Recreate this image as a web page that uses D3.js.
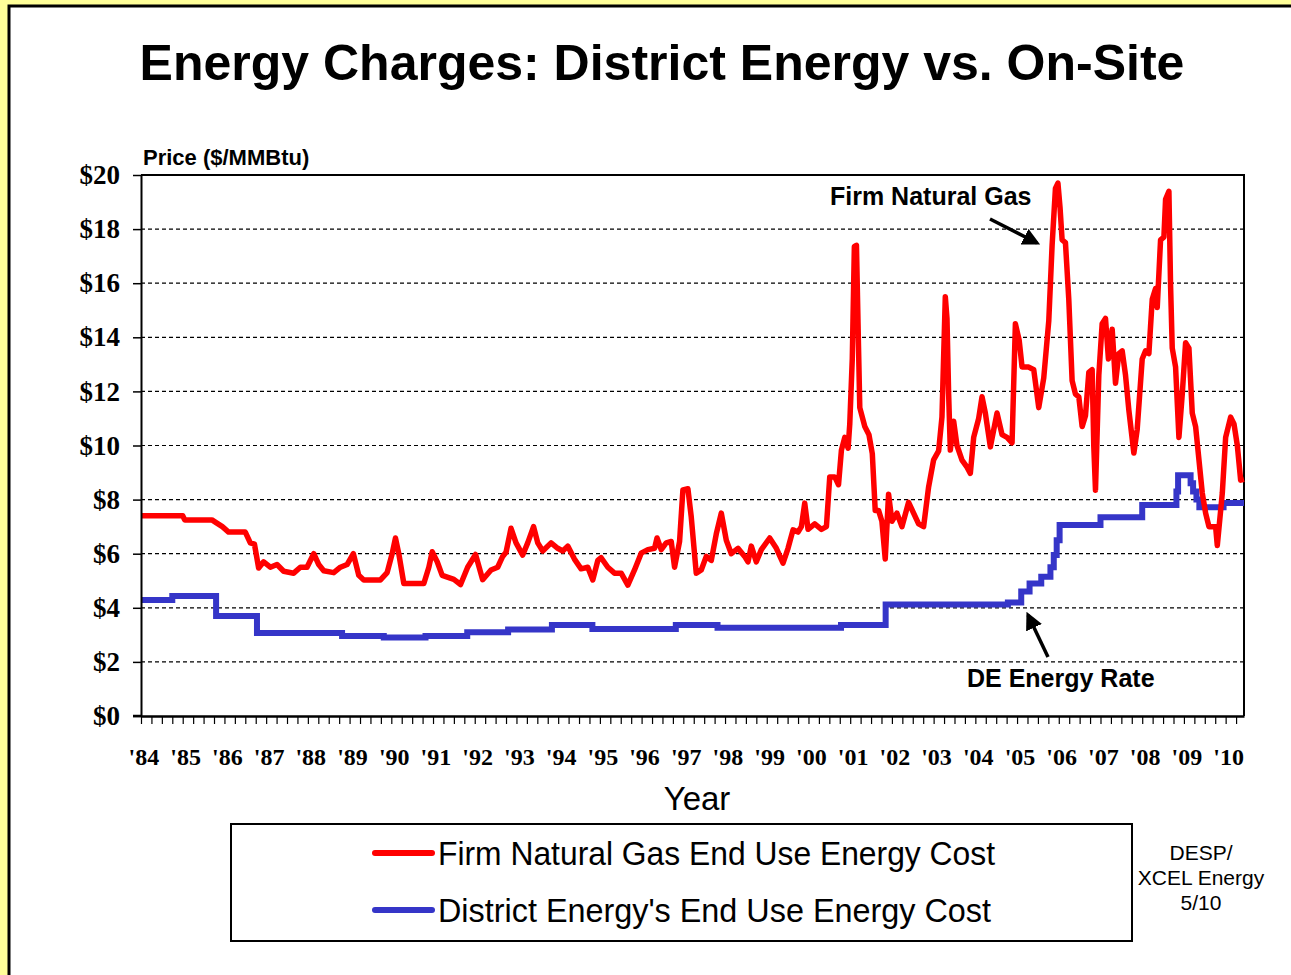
<!DOCTYPE html>
<html>
<head>
<meta charset="utf-8">
<script src="https://cdn.jsdelivr.net/npm/d3@7"></script>
<style>
  body { margin: 0; background: #ffff99; }
  svg { display: block; }
</style>
</head>
<body>
<svg id="chart" width="1291" height="975"></svg>
<script>
// ---- data (decimal year, $/MMBtu) ----
const yearLabels = ["'84", "'85", "'86", "'87", "'88", "'89", "'90", "'91", "'92", "'93", "'94", "'95", "'96",
  "'97", "'98", "'99", "'00", "'01", "'02", "'03", "'04", "'05", "'06", "'07", "'08", "'09", "'10"];
const firstYear = 1984;
const priceTicks = [0, 2, 4, 6, 8, 10, 12, 14, 16, 18, 20];

const firmGas = [
  [1984.0, 7.4], [1985.0, 7.4], [1985.05, 7.25], [1985.7, 7.25], [1985.8, 7.15], [1985.95, 7.0],
  [1986.1, 6.8], [1986.5, 6.8], [1986.62, 6.4], [1986.72, 6.35], [1986.82, 5.47], [1986.94, 5.7],
  [1987.1, 5.5], [1987.26, 5.6], [1987.42, 5.35], [1987.66, 5.28], [1987.82, 5.5], [1987.98, 5.5],
  [1988.14, 6.0], [1988.26, 5.6], [1988.38, 5.37], [1988.62, 5.3], [1988.78, 5.5], [1988.94, 5.6],
  [1989.09, 6.0], [1989.22, 5.2], [1989.34, 5.03], [1989.74, 5.03], [1989.9, 5.3], [1990.02, 6.0],
  [1990.1, 6.58], [1990.18, 6.0], [1990.3, 4.9], [1990.78, 4.9], [1990.9, 5.5], [1990.98, 6.07],
  [1991.1, 5.7], [1991.22, 5.2], [1991.5, 5.05], [1991.66, 4.86], [1991.83, 5.5], [1992.02, 5.97],
  [1992.19, 5.04], [1992.39, 5.4], [1992.55, 5.5], [1992.67, 5.9], [1992.75, 6.05], [1992.87, 6.94],
  [1992.99, 6.4], [1993.15, 5.95], [1993.27, 6.4], [1993.41, 7.0], [1993.51, 6.4], [1993.63, 6.1],
  [1993.83, 6.4], [1993.99, 6.2], [1994.11, 6.1], [1994.23, 6.28], [1994.39, 5.8], [1994.55, 5.44],
  [1994.71, 5.5], [1994.83, 5.03], [1994.95, 5.75], [1995.03, 5.85], [1995.19, 5.5], [1995.35, 5.28],
  [1995.51, 5.28], [1995.67, 4.84], [1995.83, 5.4], [1995.99, 6.02], [1996.15, 6.15], [1996.31, 6.2],
  [1996.37, 6.58], [1996.47, 6.15], [1996.59, 6.4], [1996.71, 6.45], [1996.79, 5.5], [1996.91, 6.45],
  [1996.99, 8.36], [1997.11, 8.4], [1997.19, 7.36], [1997.31, 5.28], [1997.43, 5.4], [1997.55, 5.9],
  [1997.67, 5.75], [1997.79, 6.73], [1997.91, 7.5], [1998.03, 6.5], [1998.15, 6.0], [1998.31, 6.2],
  [1998.47, 5.9], [1998.55, 5.7], [1998.63, 6.28], [1998.75, 5.7], [1998.87, 6.15], [1999.07, 6.58],
  [1999.23, 6.2], [1999.39, 5.65], [1999.51, 6.2], [1999.63, 6.88], [1999.75, 6.8], [1999.83, 7.0],
  [1999.91, 7.87], [1999.99, 6.9], [2000.15, 7.1], [2000.31, 6.9], [2000.43, 7.0], [2000.51, 8.84],
  [2000.63, 8.84], [2000.72, 8.55], [2000.79, 9.83], [2000.87, 10.3], [2000.95, 9.9], [2000.99, 10.8],
  [2001.05, 13.2], [2001.1, 17.35], [2001.15, 17.4], [2001.2, 13.6], [2001.23, 11.4], [2001.35, 10.7],
  [2001.45, 10.4], [2001.53, 9.7], [2001.6, 7.6], [2001.68, 7.6], [2001.76, 7.2], [2001.84, 5.8],
  [2001.92, 8.2], [2002.0, 7.2], [2002.12, 7.5], [2002.24, 7.0], [2002.4, 7.9], [2002.52, 7.5],
  [2002.64, 7.1], [2002.76, 7.0], [2002.88, 8.47], [2003.0, 9.47], [2003.12, 9.8], [2003.2, 11.05],
  [2003.28, 15.5], [2003.32, 14.7], [2003.36, 11.9], [2003.4, 9.83], [2003.48, 10.9], [2003.56, 10.0],
  [2003.68, 9.46], [2003.8, 9.2], [2003.88, 8.97], [2003.96, 10.3], [2004.08, 11.0], [2004.16, 11.8],
  [2004.24, 11.2], [2004.36, 9.95], [2004.52, 11.2], [2004.64, 10.4], [2004.76, 10.3], [2004.88, 10.1],
  [2004.96, 14.5], [2005.05, 13.9], [2005.12, 12.9], [2005.28, 12.9], [2005.4, 12.8], [2005.52, 11.4],
  [2005.64, 12.5], [2005.76, 14.6], [2005.84, 17.4], [2005.92, 19.5], [2005.98, 19.7], [2006.03, 18.8],
  [2006.08, 17.6], [2006.16, 17.5], [2006.24, 15.4], [2006.32, 12.4], [2006.4, 11.9], [2006.48, 11.8],
  [2006.56, 10.7], [2006.64, 11.1], [2006.72, 12.7], [2006.8, 12.8], [2006.84, 9.95], [2006.88, 8.35],
  [2006.96, 12.6], [2007.04, 14.5], [2007.12, 14.7], [2007.19, 13.2], [2007.28, 14.3], [2007.36, 12.3],
  [2007.44, 13.4], [2007.52, 13.5], [2007.6, 12.6], [2007.68, 11.3], [2007.8, 9.72], [2007.88, 10.6],
  [2008.0, 13.2], [2008.08, 13.5], [2008.16, 13.4], [2008.24, 15.4], [2008.32, 15.8], [2008.36, 15.1],
  [2008.44, 17.6], [2008.52, 17.7], [2008.56, 19.1], [2008.64, 19.4], [2008.68, 15.9], [2008.72, 13.6],
  [2008.8, 12.9], [2008.88, 10.3], [2008.96, 11.9], [2009.04, 13.8], [2009.12, 13.6], [2009.2, 11.2],
  [2009.28, 10.7], [2009.44, 8.24], [2009.52, 7.5], [2009.6, 7.0], [2009.76, 7.0], [2009.8, 6.3],
  [2009.92, 8.24], [2010.0, 10.3], [2010.12, 11.05], [2010.2, 10.8], [2010.28, 10.0], [2010.36, 8.72],
  [2010.44, 8.75]
];

// district energy rate moves in steps
const districtEnergy = [
  [1984.0, 4.29], [1984.75, 4.44], [1985.8, 3.7], [1986.78, 3.07], [1988.82, 2.96], [1989.82, 2.9],
  [1990.82, 2.96], [1991.82, 3.1], [1992.8, 3.2], [1993.85, 3.36], [1994.82, 3.22], [1996.82, 3.36],
  [1997.82, 3.26], [2000.78, 3.36], [2001.85, 4.12], [2004.78, 4.2], [2005.1, 4.6], [2005.3, 4.9],
  [2005.58, 5.15], [2005.8, 5.5], [2005.88, 5.95], [2005.95, 6.5], [2006.02, 7.06], [2007.0, 7.35],
  [2008.0, 7.8], [2008.82, 8.3], [2008.86, 8.9], [2009.1, 8.9], [2009.16, 8.6], [2009.22, 8.3],
  [2009.3, 8.0], [2009.37, 7.72], [2009.95, 7.87], [2010.44, 7.87]
];

const legendItems = ["Firm Natural Gas End Use Energy Cost", "District Energy's End Use Energy Cost"];
const legendWidths = [557, 553];
const sourceNote = ["DESP/", "XCEL Energy", "5/10"];

const gasColor = "#ff0000";
const deColor = "#3535c8";

const svg = d3.select("#chart");

// slide panel
svg.append("rect")
  .attr("x", 9).attr("y", 6)
  .attr("width", 1320).attr("height", 1000)
  .attr("fill", "white")
  .attr("stroke", "black")
  .attr("stroke-width", 3);

svg.append("text")
  .attr("x", 662).attr("y", 80)
  .attr("text-anchor", "middle")
  .style("font-family", "'Liberation Sans', Arial, sans-serif")
  .style("font-weight", "bold")
  .style("font-size", "50px")
  .text("Energy Charges: District Energy vs. On-Site");

const plot = { left: 141, right: 1244, top: 175, bottom: 716 };

const xScale = d3.scaleLinear()
  .domain([firstYear, 2010.44])
  .range([plot.left, plot.right]);
const yScale = d3.scaleLinear()
  .domain([0, 20])
  .range([plot.bottom, plot.top]);

// dashed gridlines
svg.append("g")
  .selectAll("line")
  .data(priceTicks.filter(d => d > 0 && d < 20))
  .enter().append("line")
  .attr("x1", plot.left).attr("x2", plot.right)
  .attr("y1", d => yScale(d)).attr("y2", d => yScale(d))
  .attr("stroke", "black")
  .attr("stroke-width", 1.2)
  .attr("stroke-dasharray", "4,3");

// top and right frame
svg.append("path")
  .attr("d", `M${plot.left},${plot.top}H${plot.right}V${plot.bottom}`)
  .attr("fill", "none")
  .attr("stroke", "black")
  .attr("stroke-width", 2);

// lines
const line = d3.line()
  .x(d => xScale(d[0]))
  .y(d => yScale(d[1]));

svg.append("path")
  .datum(districtEnergy)
  .attr("fill", "none")
  .attr("stroke", deColor)
  .attr("stroke-width", 6)
  .attr("d", line.curve(d3.curveStepAfter));

svg.append("path")
  .datum(firmGas)
  .attr("fill", "none")
  .attr("stroke", gasColor)
  .attr("stroke-width", 5.5)
  .attr("stroke-linejoin", "round")
  .attr("d", line.curve(d3.curveLinear));

// y axis
const yAxis = d3.axisLeft(yScale)
  .tickValues(priceTicks)
  .tickFormat(d => "$" + d)
  .tickSize(8)
  .tickSizeOuter(0)
  .tickPadding(13);

const yG = svg.append("g")
  .attr("transform", `translate(${plot.left},0)`)
  .call(yAxis);
yG.select(".domain").attr("stroke-width", 2);
yG.selectAll(".tick line").attr("stroke-width", 1.5);
yG.selectAll(".tick text")
  .style("font-family", "'Liberation Serif', 'Times New Roman', serif")
  .style("font-weight", "bold")
  .style("font-size", "27px")
  .attr("fill", "black");

// x axis, quarterly ticks
const quarterTicks = d3.range(0, 26.5, 0.25).map(d => firstYear + d);
const xAxis = d3.axisBottom(xScale)
  .tickValues(quarterTicks)
  .tickFormat("")
  .tickSize(8)
  .tickSizeOuter(0);

const xG = svg.append("g")
  .attr("transform", `translate(0,${plot.bottom})`)
  .call(xAxis);
xG.select(".domain").attr("stroke-width", 2.5);
xG.selectAll(".tick line").attr("stroke-width", 1.2);
// extend the axis line to the left under the $0 tick
svg.append("line")
  .attr("x1", plot.left - 8).attr("x2", plot.left)
  .attr("y1", plot.bottom).attr("y2", plot.bottom)
  .attr("stroke", "black").attr("stroke-width", 2.5);

svg.append("g")
  .selectAll("text")
  .data(yearLabels)
  .enter().append("text")
  .attr("x", (d, i) => xScale(firstYear + i + 0.07))
  .attr("y", 765)
  .attr("text-anchor", "middle")
  .style("font-family", "'Liberation Serif', 'Times New Roman', serif")
  .style("font-weight", "bold")
  .style("font-size", "24px")
  .text(d => d);

svg.append("text")
  .attr("x", 697).attr("y", 810)
  .attr("text-anchor", "middle")
  .style("font-family", "'Liberation Sans', Arial, sans-serif")
  .style("font-size", "33px")
  .text("Year");

svg.append("text")
  .attr("x", 143).attr("y", 165)
  .style("font-family", "'Liberation Sans', Arial, sans-serif")
  .style("font-weight", "bold")
  .style("font-size", "22px")
  .text("Price ($/MMBtu)");

// annotations
const defs = svg.append("defs");
defs.append("marker")
  .attr("id", "arrowhead")
  .attr("viewBox", "0 0 10 10")
  .attr("refX", 8).attr("refY", 5)
  .attr("markerWidth", 5).attr("markerHeight", 5)
  .attr("orient", "auto")
  .append("path")
  .attr("d", "M0,0L10,5L0,10z")
  .attr("fill", "black");

const annotations = [
  { label: "Firm Natural Gas", tx: 830, ty: 205, x1: 990, y1: 219, x2: 1037, y2: 243 },
  { label: "DE Energy Rate", tx: 967, ty: 687, x1: 1048, y1: 657, x2: 1028, y2: 615 }
];

annotations.forEach(a => {
  svg.append("text")
    .attr("x", a.tx).attr("y", a.ty)
    .style("font-family", "'Liberation Sans', Arial, sans-serif")
    .style("font-weight", "bold")
    .style("font-size", "25px")
    .text(a.label);
  svg.append("line")
    .attr("x1", a.x1).attr("y1", a.y1)
    .attr("x2", a.x2).attr("y2", a.y2)
    .attr("stroke", "black")
    .attr("stroke-width", 3.5)
    .attr("marker-end", "url(#arrowhead)");
});

// legend
const legend = svg.append("g");
legend.append("rect")
  .attr("x", 231).attr("y", 824)
  .attr("width", 901).attr("height", 117)
  .attr("fill", "white")
  .attr("stroke", "black")
  .attr("stroke-width", 2);

const legendColors = [gasColor, deColor];
legendItems.forEach((label, i) => {
  const y = 853 + i * 57;
  legend.append("line")
    .attr("x1", 375).attr("x2", 432)
    .attr("y1", y).attr("y2", y)
    .attr("stroke", legendColors[i])
    .attr("stroke-width", 6)
    .attr("stroke-linecap", "round");
  legend.append("text")
    .attr("x", 438).attr("y", y + 12)
    .attr("textLength", legendWidths[i])
    .attr("lengthAdjust", "spacingAndGlyphs")
    .style("font-family", "'Liberation Sans', Arial, sans-serif")
    .style("font-size", "34px")
    .text(label);
});

svg.append("g")
  .selectAll("text")
  .data(sourceNote)
  .enter().append("text")
  .attr("x", 1201)
  .attr("y", (d, i) => 860 + i * 25)
  .attr("text-anchor", "middle")
  .style("font-family", "'Liberation Sans', Arial, sans-serif")
  .style("font-size", "21px")
  .text(d => d);
</script>
</body>
</html>
